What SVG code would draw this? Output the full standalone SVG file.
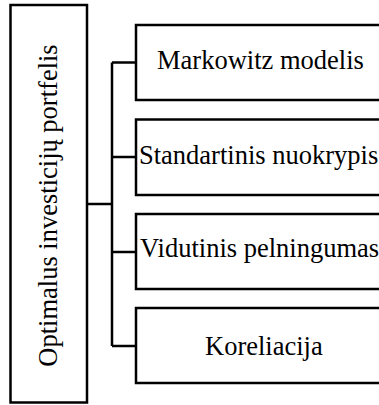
<svg xmlns="http://www.w3.org/2000/svg" width="379" height="405" viewBox="0 0 379 405">
<style>
.box{fill:#fff;stroke:#000;stroke-width:2.5}
.lbl{font-family:"Liberation Serif","Times New Roman",serif;font-size:26.5px;fill:#000}
.con{fill:none;stroke:#000;stroke-width:2.5}
</style>
<rect width="379" height="405" fill="#fff"/>
<g id="root">
<rect class="box" x="10.5" y="5" width="76.5" height="397.5"/>
<text class="lbl" transform="translate(57,205.5) rotate(-90)" text-anchor="middle">Optimalus investicijų portfelis</text>
</g>
<g id="connectors">
<path class="con" d="M87,204 H112"/>
<path class="con" d="M112,62.5 V346 M112,62.5 H136 M112,157 H136 M112,252 H136 M112,346 H136"/>
</g>
<g id="n1">
<rect class="box" x="136" y="25" width="270" height="75"/>
<text class="lbl" x="157" y="69">Markowitz modelis</text>
</g>
<g id="n2">
<rect class="box" x="136" y="119.5" width="270" height="75.5"/>
<text class="lbl" x="139" y="164">Standartinis nuokrypis</text>
</g>
<g id="n3">
<rect class="box" x="136" y="214" width="270" height="75"/>
<text class="lbl" x="140" y="257">Vidutinis pelningumas</text>
</g>
<g id="n4">
<rect class="box" x="136" y="308" width="270" height="75"/>
<text class="lbl" x="205" y="355">Koreliacija</text>
</g>
</svg>
